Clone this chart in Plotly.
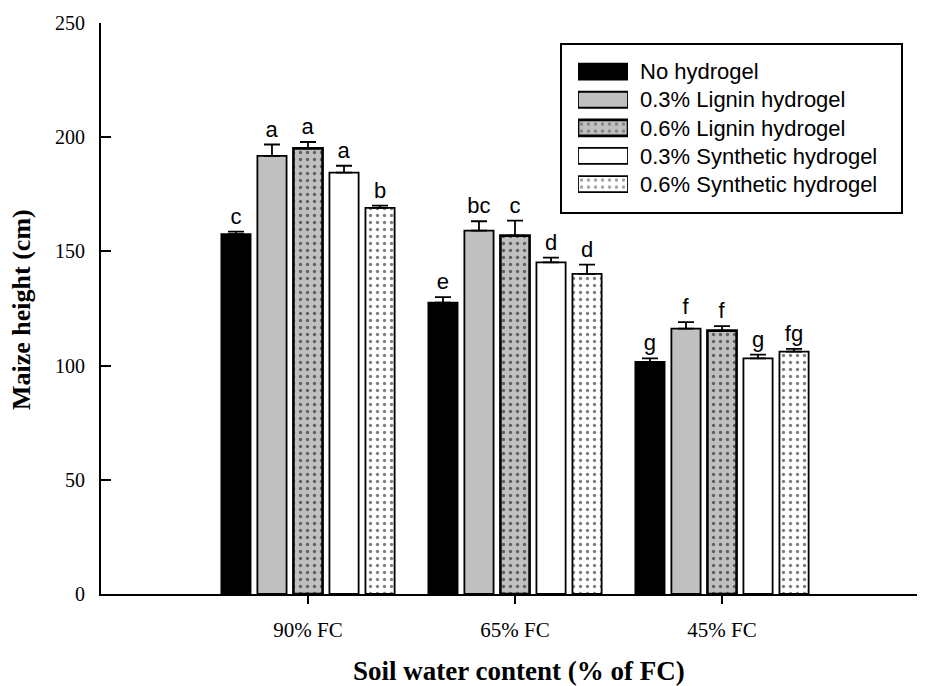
import plotly.graph_objects as go

# ---------------- data ----------------
groups = ["90% FC", "65% FC", "45% FC"]
series = ["No hydrogel", "0.3% Lignin hydrogel", "0.6% Lignin hydrogel",
          "0.3% Synthetic hydrogel", "0.6% Synthetic hydrogel"]

no_hydrogel = [157.5, 127.6, 101.6]
lignin_03 = [191.8, 159.1, 116.2]
lignin_06 = [195.1, 156.9, 115.3]
synthetic_03 = [184.5, 145.2, 103.2]
synthetic_06 = [169.1, 140.2, 106.1]

err_no_hydrogel = [1.2, 2.4, 1.6]
err_lignin_03 = [5.0, 4.1, 2.8]
err_lignin_06 = [2.8, 6.6, 2.0]
err_synthetic_03 = [3.0, 2.1, 1.6]
err_synthetic_06 = [0.9, 4.0, 1.2]

letters_no_hydrogel = ["c", "e", "g"]
letters_lignin_03 = ["a", "bc", "f"]
letters_lignin_06 = ["a", "c", "f"]
letters_synthetic_03 = ["a", "d", "g"]
letters_synthetic_06 = ["b", "d", "fg"]

y_ticks = [0, 50, 100, 150, 200, 250]

values = [no_hydrogel, lignin_03, lignin_06, synthetic_03, synthetic_06]
errors = [err_no_hydrogel, err_lignin_03, err_lignin_06, err_synthetic_03, err_synthetic_06]
letters = [letters_no_hydrogel, letters_lignin_03, letters_lignin_06,
           letters_synthetic_03, letters_synthetic_06]

# ---------------- styles ----------------
GRAY = "#c0c0c0"
fills = ["black", GRAY, GRAY, "white", "white"]
patterns = ["", "", ".", "", "."]
line_w = [1.8, 1.8, 2.6, 1.8, 1.8]
SERIF = "Liberation Serif, Times New Roman, serif"
SANS = "Liberation Sans, Arial, sans-serif"

fig = go.Figure()

for i, name in enumerate(series):
    ytop = [v + e for v, e in zip(values[i], errors[i])]
    fig.add_trace(go.Bar(
        x=groups, y=values[i], name=name, offsetgroup=str(i), showlegend=False,
        marker=dict(color=fills[i], line=dict(color="black", width=line_w[i]),
                    pattern=dict(shape=patterns[i], fgcolor="black", bgcolor=fills[i],
                                 size=7, solidity=0.18)),
        error_y=dict(type="data", array=errors[i], arrayminus=[0] * len(groups),
                     symmetric=False, color="black", thickness=1.8, width=8),
        hoverinfo="skip",
    ))
    # invisible bars reaching the error caps, used only to place the letters
    fig.add_trace(go.Bar(
        x=groups, y=ytop, offsetgroup=str(i), showlegend=False,
        marker=dict(color="rgba(0,0,0,0)", line=dict(width=0)),
        text=letters[i], textposition="outside", constraintext="none",
        textfont=dict(family=SANS, size=22, color="black"), cliponaxis=False,
        hoverinfo="skip",
    ))

# custom legend: swatches drawn as bars on a small helper axis
fig.add_trace(go.Bar(
    y=series, x=[1] * len(series), orientation="h", xaxis="x2", yaxis="y2",
    showlegend=False, hoverinfo="skip", width=0.57,
    marker=dict(color=fills, line=dict(color="black", width=line_w),
                pattern=dict(shape=patterns, fgcolor="black", bgcolor=fills,
                             size=7, solidity=0.18)),
))

# page offset of the figure (default body margin)
OFF = 8
W, H = 917, 678
ML, MR, MT, MB = 93, 0, 15, 92
PW, PH = W - ML - MR, H - MT - MB


def px_x(p):  # page pixel -> paper fraction
    return (p - OFF - ML) / PW


def px_y(p):
    return (H - MB - (p - OFF)) / PH


fig.update_layout(
    width=W, height=H,
    margin=dict(l=ML, r=MR, t=MT, b=MB, pad=0),
    paper_bgcolor="white", plot_bgcolor="white",
    barmode="group", bargap=0.13, bargroupgap=0.19,
    showlegend=False,
    xaxis=dict(type="category", range=[-1, -1 + PW / 207.0], showline=True,
               linecolor="black", linewidth=2, ticks="outside", ticklen=8,
               tickwidth=1.5, tickcolor="black",
               tickfont=dict(family=SERIF, size=21, color="black"),
               ticklabelstandoff=8, showgrid=False, zeroline=False),
    yaxis=dict(range=[0, 250], tickvals=y_ticks, showline=True, linecolor="black",
               linewidth=2, ticks="inside", ticklen=10, tickwidth=1.5, tickcolor="black",
               tickfont=dict(family=SERIF, size=20, color="black"),
               ticklabelstandoff=10, showgrid=False, zeroline=False),
    xaxis2=dict(domain=[px_x(578), px_x(628)], range=[0, 1], anchor="y2",
                visible=False, fixedrange=True),
    yaxis2=dict(domain=[px_y(198.1), px_y(57.6)], anchor="x2", type="category",
                autorange="reversed", side="right", showline=False, ticks="",
                showgrid=False, zeroline=False, ticklabelstandoff=11,
                tickfont=dict(family=SANS, size=22, color="black")),
    shapes=[dict(type="rect", xref="paper", yref="paper",
                 x0=px_x(561), x1=px_x(902), y0=px_y(213), y1=px_y(44),
                 line=dict(color="black", width=2), fillcolor="rgba(0,0,0,0)")],
    annotations=[
        dict(text="<b>Soil water content (% of FC)</b>", xref="paper", yref="paper",
             x=px_x(519), y=px_y(671), xanchor="center", yanchor="middle",
             showarrow=False, font=dict(family=SERIF, size=27, color="black")),
        dict(text="<b>Maize height (cm)</b>", xref="paper", yref="paper",
             x=px_x(21), y=px_y(310), xanchor="center", yanchor="middle",
             textangle=-90, showarrow=False,
             font=dict(family=SERIF, size=26, color="black")),
    ],
)

fig.write_html("out.html")
